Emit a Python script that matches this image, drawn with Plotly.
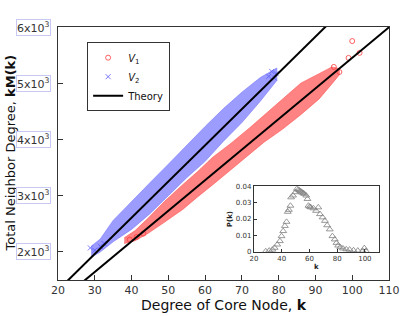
import plotly.graph_objects as go

# ---------------- data ----------------
# V1 (red) cloud: lower / upper envelope of kM(k) at sampled degrees k
v1_k  = [38, 41, 44.5, 49, 54, 58, 62, 67, 72, 76, 81, 86, 91, 94.5, 96.5]
v1_lo = [2150, 2200, 2330, 2530, 2760, 2980, 3190, 3460, 3730, 3950, 4180, 4440, 4720, 4990, 5150]
v1_hi = [2250, 2380, 2600, 2900, 3200, 3430, 3680, 3930, 4200, 4430, 4730, 5000, 5170, 5290, 5260]
# isolated V1 points
v1_pt_k = [39.5, 41.4, 43.2, 95, 96.5, 99, 100, 102]
v1_pt_y = [2218, 2266, 2325, 5290, 5200, 5450, 5750, 5540]

# V2 (blue) cloud
v2_k  = [29, 31.5, 35, 40, 45, 50, 55, 60, 65, 70, 75, 79.5]
v2_lo = [1900, 2000, 2180, 2400, 2680, 3000, 3320, 3610, 3970, 4300, 4680, 5050]
v2_hi = [2100, 2230, 2560, 2900, 3230, 3560, 3900, 4230, 4550, 4840, 5100, 5270]
# isolated V2 points
v2_pt_k = [28.8, 30, 31.5, 32.5, 77.3, 78.1, 78.8, 79.3]
v2_pt_y = [2071, 2030, 2100, 2150, 5122, 5210, 5093, 5170]

# Theory lines (end points)
th1_k = [20, 115]
th1_y = [1099, 6267]
th2_k = [20, 100]
th2_y = [1320, 6472]

# Inset: degree distribution P(k)
pk_k = [28.5, 31, 33.3, 34.9, 36.8, 38.7, 39.9, 41.1, 42.3, 43.5, 44.4, 45.2, 46.3, 46.8,
        48.2, 49.9, 51, 52, 52.9, 53.8, 54.6, 55.5, 56.3, 57.7, 58.6, 59.3, 60.2, 61, 62.9,
        64.8, 66.4, 67.6, 69.5, 71.2, 72.8, 74.7, 76.6, 78.3, 79.5, 80.7, 82.3, 84.2, 86.6,
        89, 91.8, 94.9, 98.4, 99.6, 100.8]
pk_p = [0.0004, 0.0008, 0.0014, 0.0025, 0.0045, 0.0066, 0.0096, 0.0127, 0.0158, 0.0183,
        0.0244, 0.0256, 0.0281, 0.0332, 0.0343, 0.0363, 0.0384, 0.0378, 0.0373, 0.0368,
        0.0363, 0.0358, 0.0353, 0.0343, 0.0322, 0.0281, 0.0275, 0.0271, 0.0265, 0.025,
        0.0271, 0.023, 0.021, 0.0189, 0.0162, 0.0137, 0.0096, 0.0076, 0.0055, 0.0039,
        0.0029, 0.0021, 0.0016, 0.0014, 0.001, 0.0008, 0.0006, 0.0023, 0.0006]

ytick_vals = [2000, 3000, 4000, 5000, 6000]
ytick_text = ["2x10<sup>3</sup>", "3x10<sup>3</sup>", "4x10<sup>3</sup>", "5x10<sup>3</sup>", "6x10<sup>3</sup>"]
xtick_vals = [20, 30, 40, 50, 60, 70, 80, 90, 100, 110]
inset_xticks = [20, 40, 60, 80, 100]
inset_yticks = [0, 0.01, 0.02, 0.03, 0.04]
inset_ytext = ["0", "0.01", "0.02", "0.03", "0.04"]

FONT = "DejaVu Sans"

fig = go.Figure()

# clouds as filled envelopes
fig.add_trace(go.Scatter(x=v2_k + v2_k[::-1], y=v2_hi + v2_lo[::-1], fill="toself",
                         fillcolor="rgba(95,95,255,0.62)", line=dict(color="rgba(120,120,255,0.6)", width=1),
                         mode="lines", showlegend=False, hoverinfo="skip"))
fig.add_trace(go.Scatter(x=v1_k + v1_k[::-1], y=v1_hi + v1_lo[::-1], fill="toself",
                         fillcolor="rgba(255,55,55,0.62)", line=dict(color="rgba(255,80,80,0.6)", width=1),
                         mode="lines", showlegend=False, hoverinfo="skip"))

# isolated points (also legend entries)
fig.add_trace(go.Scatter(x=v1_pt_k, y=v1_pt_y, mode="markers",
                         marker=dict(symbol="circle-open", size=5, color="rgba(255,60,60,0.8)", line=dict(width=1)),
                         name="<i>V</i><sub>1</sub>"))
fig.add_trace(go.Scatter(x=v2_pt_k, y=v2_pt_y, mode="markers",
                         marker=dict(symbol="x-thin-open", size=5, color="rgba(90,90,255,0.8)",
                                     line=dict(width=1, color="rgba(90,90,255,0.8)")),
                         name="<i>V</i><sub>2</sub>"))

# theory
fig.add_trace(go.Scatter(x=th1_k, y=th1_y, mode="lines", line=dict(color="black", width=2),
                         name="Theory"))
fig.add_trace(go.Scatter(x=th2_k, y=th2_y, mode="lines", line=dict(color="black", width=2),
                         showlegend=False))

# inset
fig.add_trace(go.Scatter(x=pk_k, y=pk_p, mode="markers", xaxis="x2", yaxis="y2",
                         marker=dict(symbol="triangle-up-open", size=6, color="#808080",
                                     line=dict(width=0.8)),
                         showlegend=False))

axis_common = dict(showline=True, mirror=True, linecolor="#333333", linewidth=1.3,
                   showgrid=False, zeroline=False, ticks="inside", tickcolor="#333333",
                   automargin=False)

fig.update_layout(
    width=415, height=316,
    margin=dict(l=58, r=26, t=27, b=36),
    paper_bgcolor="white", plot_bgcolor="white",
    font=dict(family=FONT, color="#222222"),
    xaxis=dict(range=[20, 110], tickvals=xtick_vals, ticklen=5, tickwidth=1,
               tickfont=dict(size=11, color="#333333"), **axis_common),
    yaxis=dict(range=[1500, 6000], tickvals=ytick_vals, showticklabels=False, ticklen=5, tickwidth=1,
               **axis_common),
    xaxis2=dict(domain=[0.592, 0.969], anchor="y2", range=[20, 110], tickvals=inset_xticks,
                ticklen=3, tickwidth=1, tickfont=dict(size=7, color="#333333"),
                title=dict(text="<b>k</b>", font=dict(size=7), standoff=1),
                **axis_common),
    yaxis2=dict(domain=[0.111, 0.371], anchor="x2", range=[0, 0.04], tickvals=inset_yticks,
                ticktext=inset_ytext, ticklen=3, tickwidth=1, tickfont=dict(size=7, color="#333333"),
                title=dict(text="<b>P(k)</b>", font=dict(size=7), standoff=2),
                **axis_common),
    legend=dict(x=0.088, y=0.94, xanchor="left", yanchor="top", bgcolor="white",
                bordercolor="#333333", borderwidth=1, font=dict(size=10, family=FONT, color="#111111"),
                tracegroupgap=0, itemwidth=30),
    showlegend=True,
)

# axis titles
fig.add_annotation(x=0.5, xref="paper", y=-0.099, yref="paper", text="Degree of Core Node, <b>k</b>",
                   showarrow=False, xanchor="center", yanchor="middle",
                   font=dict(size=14, family=FONT, color="#111111"))
fig.add_annotation(x=-0.145, xref="paper", y=0.5, yref="paper", text="Total Neighbor Degree, <b>kM(k)</b>",
                   showarrow=False, xanchor="center", yanchor="middle", textangle=-90,
                   font=dict(size=13, family=FONT, color="#111111"))

for v, t in zip(ytick_vals, ytick_text):
    fig.add_annotation(x=0, xref="paper", y=v, yref="y", text=t, showarrow=False,
                       xanchor="right", yanchor="middle", xshift=-7,
                       font=dict(size=11, family=FONT, color="#333333"),
                       bordercolor="#c8c8f4", borderwidth=1, borderpad=0, bgcolor="white")

fig.write_html("out.html", config={"displayModeBar": False},
               post_script="document.body.style.margin='0px';")
